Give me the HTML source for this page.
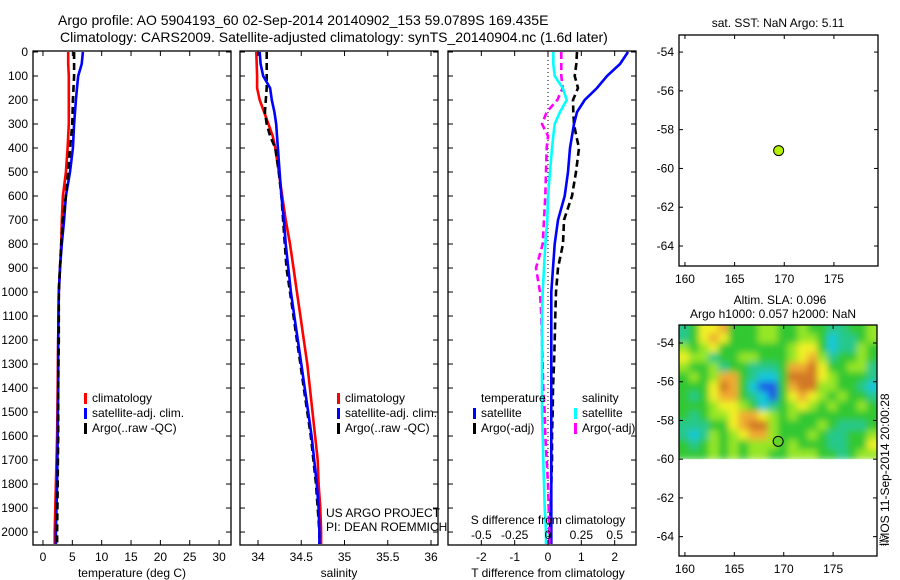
<!DOCTYPE html>
<html><head><meta charset="utf-8">
<style>
html,body{margin:0;padding:0;background:#fff;}
svg{display:block;font-family:"Liberation Sans",sans-serif;}
text{fill:#000;}
</style></head>
<body>
<svg id="chart" width="900" height="580" viewBox="0 0 900 580">
<defs><filter id="bl" x="-5%" y="-5%" width="110%" height="110%"><feGaussianBlur stdDeviation="3.5"/></filter></defs>
<text x="58" y="25" font-size="14" text-anchor="start">Argo profile: AO 5904193_60 02-Sep-2014 20140902_153 59.0789S 169.435E</text>
<text x="60" y="42" font-size="14" text-anchor="start">Climatology: CARS2009. Satellite-adjusted climatology: synTS_20140904.nc (1.6d later)</text>
<g id="layer"></g>
</svg>
<script>
// ---- data ----
const depthLevels = [0,50,100,150,200,250,300,350,400,500,600,700,800,900,1000,1100,1200,1300,1400,1500,1600,1700,1800,1900,2000,2050];
const tempClim   = [4.3,4.3,4.4,4.4,4.4,4.4,4.4,4.3,4.2,3.9,3.4,3.2,3.1,2.9,2.7,2.65,2.6,2.55,2.5,2.45,2.4,2.3,2.2,2.1,2.0,2.0];
const tempSat    = [6.8,6.6,6.0,5.8,5.6,5.45,5.3,5.2,5.1,4.6,3.9,3.6,3.2,2.9,2.7,2.65,2.6,2.6,2.6,2.55,2.5,2.45,2.4,2.3,2.2,2.2];
const tempArgo   = [5.3,5.3,5.3,5.2,5.1,5.05,5.0,4.8,4.6,4.3,3.9,3.4,3.1,2.9,2.7,2.7,2.7,2.65,2.6,2.6,2.6,2.55,2.5,2.45,2.4,2.4];
const salClim    = [33.98,33.985,33.99,33.99,34.02,34.07,34.12,34.17,34.2,34.24,34.28,34.32,34.37,34.41,34.45,34.49,34.53,34.57,34.6,34.63,34.66,34.69,34.7,34.72,34.73,34.73];
const salSat     = [34.02,34.03,34.06,34.14,34.16,34.19,34.21,34.22,34.23,34.25,34.27,34.3,34.32,34.35,34.38,34.42,34.46,34.5,34.54,34.58,34.62,34.65,34.68,34.7,34.71,34.71];
const salArgo    = [34.1,34.1,34.1,34.1,34.09,34.08,34.1,34.14,34.2,34.24,34.27,34.29,34.31,34.33,34.37,34.41,34.45,34.49,34.53,34.57,34.61,34.64,34.67,34.69,34.71,34.71];
const tDiffSat   = [2.4,2.16,1.77,1.47,1.1,0.87,0.78,0.72,0.66,0.6,0.5,0.3,0.2,0.15,0.1,0.1,0.1,0.1,0.1,0.1,0.1,0.1,0.1,0.1,0.1,0.1];
const tDiffArgo  = [0.87,0.85,0.8,0.9,0.75,0.76,0.78,0.85,0.93,0.84,0.72,0.48,0.45,0.3,0.24,0.22,0.2,0.18,0.15,0.14,0.12,0.12,0.1,0.08,0.06,0.06];
const sDiffSat   = [0.04,0.04,0.05,0.11,0.14,0.09,0.05,0.04,0.03,0.015,0,-0.005,-0.02,-0.03,-0.04,-0.045,-0.045,-0.045,-0.045,-0.045,-0.04,-0.035,-0.03,-0.025,-0.015,-0.015];
const sDiffArgo  = [0.1,0.1,0.1,0.11,0.07,-0.01,-0.045,0,-0.01,-0.015,-0.02,-0.03,-0.04,-0.09,-0.06,-0.05,-0.045,-0.04,-0.035,-0.025,-0.02,-0.01,0,0.005,0.01,0.01];
const depthTicks = [0,100,200,300,400,500,600,700,800,900,1000,1100,1200,1300,1400,1500,1600,1700,1800,1900,2000];
const tempTicks = [0,5,10,15,20,25,30];
const salTicks = [34,34.5,35,35.5,36];
const salTickLabels = ["34","34.5","35","35.5","36"];
const tDiffTicks = [-2,-1,0,1,2];
const sDiffTicks = [-0.5,-0.25,0,0.25,0.5];
const sDiffTickLabels = ["-0.5","-0.25","0","0.25","0.5"];
const lonTicks = [160,165,170,175];
const latTicks = [-54,-56,-58,-60,-62,-64];
const argoLon = 169.435, argoLat = -59.0789;
const slaLatTop = [-53.0,-53.5,-54.0,-54.5,-55.0,-55.5,-56.0,-56.5,-57.0,-57.5,-58.0,-58.5,-59.0,-59.5];
const slaRows = [
"23556333443343322334",
"23565333443344312234",
"43453333333455312243",
"54423344333456423343",
"43342332223667533442",
"34346632113777543332",
"33357631003677443321",
"32356632103565434332",
"33345543123454343343",
"32344566543433333333",
"22233567743333432223",
"21243456643334322334",
"32343434443433322335",
"33343434433444332344"];
const slaColors = ["#1e5ae6","#14c8dc","#28c88c","#32c832","#96e628","#f0f028","#f0aa32","#d27828"];

// ---- helpers ----
const NS="http://www.w3.org/2000/svg";
const layer=document.getElementById('layer');
function mk(tag,attrs,parent){const e=document.createElementNS(NS,tag);for(const k in attrs)e.setAttribute(k,attrs[k]);(parent||layer).appendChild(e);return e;}
function lin(d0,d1,r0,r1){return v=>r0+(v-d0)/(d1-d0)*(r1-r0);}
function txt(x,y,s,size,anchor,name,parent){const t=mk('text',{x:x,y:y,'font-size':size,'text-anchor':anchor||'start'},parent);t.textContent=s;


return t;}
function box(l,t,r,b,name){const e=mk('rect',{x:l,y:t,width:r-l,height:b-t,fill:'none',stroke:'#000','stroke-width':1.3});

}
function profile(xs,ys,color,dash,name,g){const pts=ys.map((d,i)=>xs(i).toFixed(1)+','+d.toFixed(1)).join(' ');
const p=mk('polyline',{points:pts,fill:'none',stroke:color,'stroke-width':2.6,'stroke-dasharray':dash||'none','stroke-linejoin':'miter'},g);

}

const TOP=52,BOT=545;
const yD=lin(0,2054,TOP,BOT);
const yPix=depthLevels.map(yD);

function depthAxis(l,r,labels){
  depthTicks.forEach(d=>{const y=yD(d);
    mk('line',{x1:l,x2:l+5,y1:y,y2:y,stroke:'#000'});mk('line',{x1:r,x2:r-5,y1:y,y2:y,stroke:'#000'});
    if(labels)txt(l-5,y+4,String(d),12,'end','depth-tick-label');});
}
function xTicks(l,r,vals,sc,labels,ly){
  vals.forEach((v,i)=>{const x=sc(v);
    mk('line',{x1:x,x2:x,y1:BOT,y2:BOT-5,stroke:'#000'});mk('line',{x1:x,x2:x,y1:TOP-1,y2:TOP+4,stroke:'#000'});
    if(labels)txt(x,ly,labels[i],12,'middle','x-tick-label');});
}
function clipRect(id,l,t,r,b){const cp=mk('clipPath',{id:id});mk('rect',{x:l,y:t,width:r-l,height:b-t},cp);}

// ---- panel 1: temperature ----
{const l=33,r=231;const sx=lin(-1.7,32.03,l,r);
 const g=mk('g',{'clip-path':'url(#c1)'});clipRect('c1',l,TOP-1,r,BOT);
 
 
 profile(i=>sx(tempClim[i]),yPix,'#ff0000',null,'temp-climatology-line',g);
 profile(i=>sx(tempSat[i]),yPix,'#0000ff',null,'temp-satellite-line',g);
 profile(i=>sx(tempArgo[i]),yPix,'#000000','7,4','temp-argo-line',g);
 box(l,TOP-1,r,BOT,'temperature-axes');depthAxis(l,r,true);
 xTicks(l,r,tempTicks,sx,tempTicks.map(String),561);
 txt(132,577,'temperature (deg C)',12,'middle','temperature-x-title');
 const lg=[['climatology','#ff0000'],['satellite-adj. clim.','#0000ff'],['Argo(..raw -QC)','#000']];
 lg.forEach((e,i)=>{const y=402+i*15;const m=mk('rect',{x:84,y:y-9,width:3,height:11,fill:e[1]});
  
  
  txt(92,y,e[0],12,'start','legend-entry');});
}
// ---- panel 2: salinity ----
{const l=240,r=438;const sx=lin(34,36,258,431);
 const g=mk('g',{'clip-path':'url(#c2)'});clipRect('c2',l,TOP-1,r,BOT);
 
 
 profile(i=>sx(salClim[i]),yPix,'#ff0000',null,'sal-climatology-line',g);
 profile(i=>sx(salArgo[i]),yPix,'#000000','7,4','sal-argo-line',g);
 profile(i=>sx(salSat[i]),yPix,'#0000ff',null,'sal-satellite-line',g);
 box(l,TOP-1,r,BOT,'salinity-axes');depthAxis(l,r,false);
 xTicks(l,r,salTicks,sx,salTickLabels,561);
 txt(339,577,'salinity',12,'middle','salinity-x-title');
 const lg=[['climatology','#ff0000'],['satellite-adj. clim.','#0000ff'],['Argo(..raw -QC)','#000']];
 lg.forEach((e,i)=>{const y=402+i*15;const m=mk('rect',{x:337,y:y-9,width:3,height:11,fill:e[1]});
  
  
  txt(345,y,e[0],12,'start','legend-entry');});
 txt(326,517,'US ARGO PROJECT',12,'start','project-label');
 txt(326,531,'PI: DEAN ROEMMICH',12,'start','pi-label');
}
// ---- panel 3: differences ----
{const l=448,r=636;const sx=lin(-3.0,2.64,l,r);const ss=v=>sx(v*4);
 const g=mk('g',{'clip-path':'url(#c3)'});clipRect('c3',l,TOP-1,r,BOT);
 
 
 const z=mk('line',{x1:sx(0),x2:sx(0),y1:TOP,y2:BOT,stroke:'#000','stroke-width':1,'stroke-dasharray':'1,3'},g);
 
 
 profile(i=>sx(tDiffArgo[i]),yPix,'#000','7,4','tdiff-argo-line',g);
 profile(i=>sx(tDiffSat[i]),yPix,'#0000ff',null,'tdiff-satellite-line',g);
 profile(i=>ss(sDiffArgo[i]),yPix,'#ff00ff','7,4','sdiff-argo-line',g);
 profile(i=>ss(sDiffSat[i]),yPix,'#00ffff',null,'sdiff-satellite-line',g);
 box(l,TOP-1,r,BOT,'difference-axes');depthAxis(l,r,false);
 xTicks(l,r,tDiffTicks,sx,tDiffTicks.map(String),561);
 sDiffTicks.forEach((v,i)=>txt(ss(v),539,sDiffTickLabels[i],12,'middle','s-tick-label'));
 txt(548,524,'S difference from climatology',12,'middle','s-diff-title');
 txt(548,577,'T difference from climatology',12,'middle','t-diff-title');
 txt(481,402,'temperature',12,'start','legend-header-temperature');
 txt(582,402,'salinity',12,'start','legend-header-salinity');
 const lg=[[473,417,'satellite','#0000ff'],[473,432,'Argo(-adj)','#000'],[574,417,'satellite','#00ffff'],[574,432,'Argo(-adj)','#ff00ff']];
 lg.forEach(e=>{const m=mk('rect',{x:e[0],y:e[1]-9,width:3,height:11,fill:e[3]});
  
  
  txt(e[0]+8,e[1],e[2],12,'start','legend-entry');});
}
// ---- maps ----
function mapAxes(l,t,r,b,latTop,latBot,name){
 const sx=lin(159.4,179.44,l,r), sy=lin(latTop,latBot,t,b);
 box(l,t,r,b,name);
 lonTicks.forEach(v=>{const x=sx(v);mk('line',{x1:x,x2:x,y1:t,y2:t+4,stroke:'#000'});mk('line',{x1:x,x2:x,y1:b,y2:b-4,stroke:'#000'});
  txt(x,b+17,String(v),12,'middle','lon-tick-label');});
 latTicks.forEach(v=>{const y=sy(v);mk('line',{x1:l,x2:l+4,y1:y,y2:y,stroke:'#000'});mk('line',{x1:r,x2:r-4,y1:y,y2:y,stroke:'#000'});
  txt(l-5,y+4,String(v),12,'end','lat-tick-label');});
 return [sx,sy];
}
// map 1: SST
{const l=679,t=35,r=878,b=266;
 const [sx,sy]=mapAxes(l,t,r,b,-53.12,-65.03,'sst-map-axes');
 txt(778,27,'sat. SST: NaN Argo: 5.11',12,'middle','sst-map-title');
 const c=mk('circle',{cx:sx(argoLon),cy:sy(argoLat),r:5,fill:'#b4f000',stroke:'#000','stroke-width':1});
 
 
}
// map 2: SLA
{const l=679,t=325,r=877,b=556;
 const sx=lin(159.4,179.44,l,r), sy=lin(-53.07,-65.0,t,b);
 clipRect('c5',l,t,r,b);
 const g=mk('g',{'clip-path':'url(#c5)'});
 
 
 const gi=mk('g',{filter:'url(#bl)'},g);
 slaRows.forEach((row,ri)=>{
  for(let ci=0;ci<row.length;ci++){
   const lon0=159.4+ci, lat0=slaLatTop[ri];
   const x0=sx(lon0-(ci===0?1:0)), x1=sx(lon0+1+(ci===row.length-1?1:0));
   const y0=sy(lat0+(ri===0?1:0)), y1=sy(lat0-0.5);
   const cell=mk('rect',{x:x0,y:y0,width:x1-x0+0.5,height:y1-y0+0.5,fill:slaColors[+row[ci]]},gi);
   
   
  }});
 const wh=mk('rect',{x:l,y:sy(-60),width:r-l,height:b-sy(-60),fill:'#fff'},g);
 
 
 mapAxes(l,t,r,b,-53.07,-65.0,'sla-map-axes');
 txt(780,304,'Altim. SLA: 0.096',12,'middle','sla-map-title1');
 txt(773,318,'Argo h1000: 0.057 h2000: NaN',12,'middle','sla-map-title2');
 const c=mk('circle',{cx:sx(argoLon),cy:sy(argoLat),r:5,fill:'#64d228',stroke:'#000','stroke-width':1});
 
 
}
// timestamp
{const t=txt(0,0,'IMOS 11-Sep-2014 20:00:28',12,'start','imos-timestamp');
 t.setAttribute('transform','translate(889,546) rotate(-90)');
 const ic=mk('rect',{x:880,y:537,width:7,height:8,fill:'none',stroke:'#000','stroke-width':1,'stroke-dasharray':'1,1'});
 
 
}
</script>
</body></html>
